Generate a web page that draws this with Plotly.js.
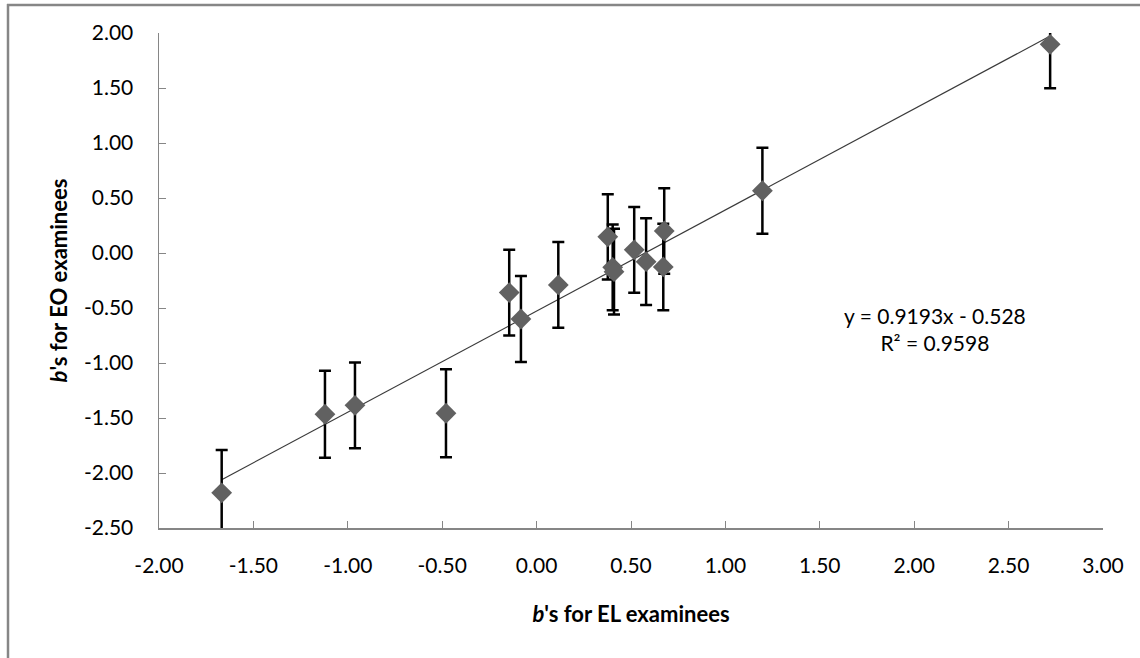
<!DOCTYPE html>
<html>
<head>
<meta charset="utf-8">
<script src="https://cdn.plot.ly/plotly-3.0.1.min.js"></script>
<style>html,body{margin:0;padding:0;background:#fff;}#chart{width:1140px;height:658px;}</style>
</head>
<body>
<div id="chart"></div>
<script>
// b's for EL examinees (x) and EO examinees (y)
const bEL = [-1.668, -1.121, -0.962, -0.480, -0.145, -0.083, 0.115, 0.377, 0.403, 0.410, 0.517, 0.580, 0.676, 0.671, 1.196, 2.720];
const bEO = [-2.180, -1.466, -1.385, -1.457, -0.360, -0.600, -0.290, 0.147, -0.130, -0.170, 0.029, -0.079, 0.200, -0.127, 0.566, 1.897];
const errEO = [0.39, 0.395, 0.39, 0.40, 0.39, 0.39, 0.39, 0.387, 0.39, 0.39, 0.39, 0.394, 0.388, 0.394, 0.39, 0.40];
const slope = 0.9193;
const intercept = -0.528;
const r2 = 0.9598;
const xTicks = [-2, -1.5, -1, -0.5, 0, 0.5, 1, 1.5, 2, 2.5, 3];
const yTicks = [2, 1.5, 1, 0.5, 0, -0.5, -1, -1.5, -2, -2.5];

const xMin = Math.min(...bEL), xMax = Math.max(...bEL);
const trendX = [xMin, xMax];
const trendY = trendX.map(v => slope * v + intercept);

const FONT = 'Lato, "Noto Sans", sans-serif';
const W = 1140, H = 658;
const L = 159, R = 1103, T = 33, B = 528;
const px2paperX = p => (p - L) / (R - L);
const px2paperY = p => (B - p) / (B - T);

const traces = [
  {
    x: trendX, y: trendY, type: 'scatter', mode: 'lines',
    line: {color: '#3a3a3a', width: 1.2}, hoverinfo: 'skip', showlegend: false
  },
  {
    x: bEL, y: bEO, type: 'scatter', mode: 'markers',
    marker: {symbol: 'diamond', size: 16, color: '#616161', line: {width: 0}},
    error_y: {type: 'data', array: errEO, visible: true, color: '#000000', thickness: 2.5, width: 6},
    showlegend: false
  }
];

const layout = {
  width: W, height: H,
  margin: {l: L, r: W - R, t: T, b: H - B, pad: 0},
  paper_bgcolor: '#ffffff', plot_bgcolor: '#ffffff',
  font: {family: FONT, size: 21, color: '#000000'},
  showlegend: false,
  xaxis: {
    range: [-2, 3], tickvals: xTicks, ticktext: xTicks.map(v => v.toFixed(2)),
    ticks: 'inside', ticklen: 7, tickwidth: 1, tickcolor: '#868686',
    showline: true, linecolor: '#868686', linewidth: 1.5,
    showgrid: false, zeroline: false, ticklabelstandoff: 18,
    tickfont: {family: FONT, size: 21, color: '#000'},
    title: {text: '<b><i>b</i>\'s for EL examinees</b>', font: {family: FONT, size: 22, color: '#000'}, standoff: 31},
    automargin: false
  },
  yaxis: {
    range: [-2.5, 2], tickvals: yTicks, ticktext: yTicks.map(v => v.toFixed(2)),
    ticks: 'inside', ticklen: 7, tickwidth: 1, tickcolor: '#868686',
    showline: true, linecolor: '#868686', linewidth: 1.5,
    showgrid: false, zeroline: false, ticklabelstandoff: 20,
    tickfont: {family: FONT, size: 21, color: '#000'},
    title: {text: '<b><i>b</i>\'s for EO examinees</b>', font: {family: FONT, size: 22, color: '#000'}, standoff: 10},
    automargin: false
  },
  annotations: [{
    x: 2.11, y: -0.69, xref: 'x', yref: 'y',
    text: 'y = ' + slope + 'x - ' + Math.abs(intercept) + '<br>R\u00B2 = ' + r2,
    showarrow: false, align: 'center',
    font: {family: FONT, size: 21, color: '#000'}
  }],
  shapes: [
    {type: 'line', xref: 'paper', yref: 'paper', x0: px2paperX(7), x1: px2paperX(1145), y0: px2paperY(5), y1: px2paperY(5), line: {color: '#868686', width: 2.5}},
    {type: 'line', xref: 'paper', yref: 'paper', x0: px2paperX(8), x1: px2paperX(8), y0: px2paperY(4), y1: px2paperY(665), line: {color: '#868686', width: 2.5}}
  ]
};

Plotly.newPlot('chart', traces, layout, {displayModeBar: false, staticPlot: true});
</script>
</body>
</html>
